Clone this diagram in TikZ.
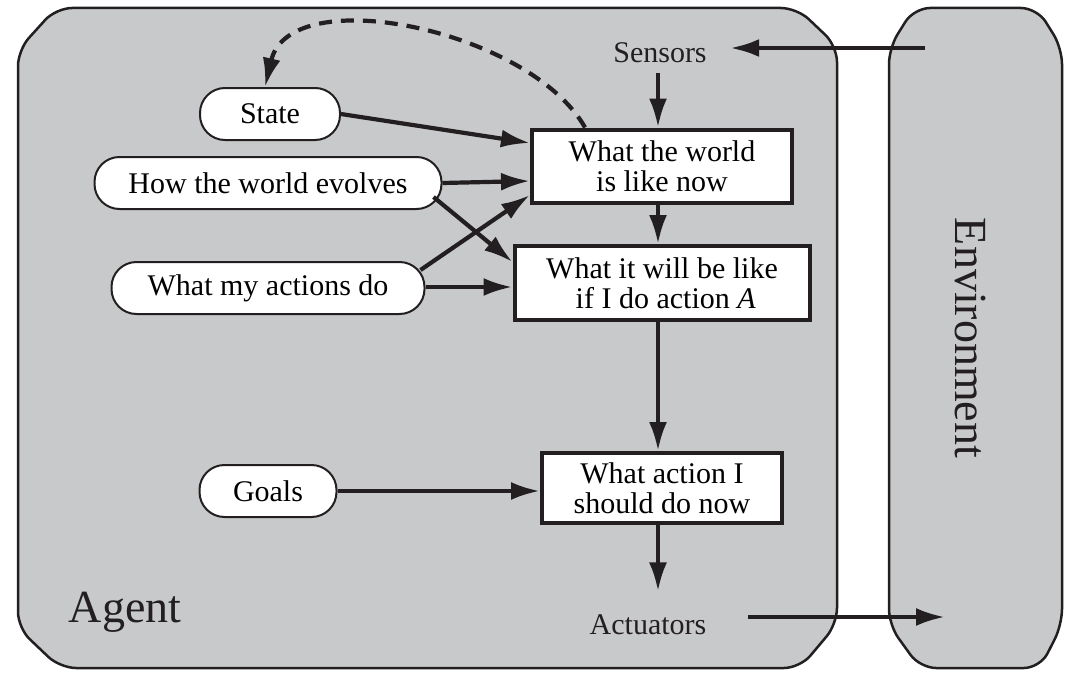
\documentclass[tikz,border=0pt]{standalone}
\usepackage{fontspec}
\setmainfont{Liberation Serif}
\usetikzlibrary{arrows.meta}
\definecolor{panel}{RGB}{200,201,203}
\definecolor{ink}{RGB}{35,31,32}
\tikzset{
  tip/.style={-{Latex[length=29pt,width=18pt]}},
  conn/.style={draw=ink,line width=4.2pt,tip},
  pill/.style={draw=ink,fill=white,line width=2pt,rounded corners=25pt,minimum height=52pt,font=\fontsize{30}{30}\selectfont,inner sep=0pt},
  boxn/.style={draw=ink,fill=white,line width=4pt,align=center,font=\fontsize{30}{30}\selectfont,inner sep=0pt},
  lbl/.style={font=\fontsize{30}{30}\selectfont,text=ink},
  outer/.style={draw=ink,fill=panel,line width=2.5pt,rounded corners=16pt}
}
\begin{document}
\begin{tikzpicture}[x=1pt,y=-1pt]
\useasboundingbox (0,0) rectangle (1079,677);
\draw[outer] (18,50) -- (56,8) -- (797,8) -- (837,46) -- (837,624) -- (800,668) -- (60,668) -- (18,628) -- cycle;
\draw[outer] (889,48) -- (914,8) -- (1037,8) -- (1062,48) -- (1062,625) -- (1040,668) -- (920,668) -- (889,625) -- cycle;
\node[lbl,font=\fontsize{46}{52}\selectfont] (agent) at (125,612) {Agent};
\node[lbl,font=\fontsize{46}{52}\selectfont,rotate=-90] (env) at (970,338) {Environment};
\coordinate (envin) at (925,48);
\coordinate (envout) at (945,617);
\node[lbl] (sensors) at (660,53) {Sensors};
\node[lbl] (actuators) at (648,625) {Actuators};
\node[pill,minimum width=140pt] (state) at (270,114) {State};
\node[pill,minimum width=347pt] (how) at (268,183) {How the world evolves};
\node[pill,minimum width=313pt] (what) at (268,288) {What my actions do};
\node[pill,minimum width=137pt] (goals) at (268,491) {Goals};
\node[boxn,minimum width=260pt,minimum height=73pt] (now) at (662,166) {What the world\\is like now};
\node[boxn,minimum width=295pt,minimum height=74pt] (will) at (662,283) {What it will be like\\\ if I do action \emph{A}};
\node[boxn,minimum width=240pt,minimum height=70pt] (act) at (662,488) {What action I\\should do now};
\draw[conn] (envin) -- ([xshift=20pt,yshift=5pt]sensors.east);
\draw[conn] ([xshift=-2pt,yshift=-6pt]sensors.south) -- ([xshift=-4pt]now.north);
\draw[conn] ([xshift=-4pt]now.south) -- ([xshift=-4pt]will.north);
\draw[conn] ([xshift=-4pt]will.south) -- ([xshift=-4pt]act.north);
\draw[conn] ([xshift=-4pt]act.south) -- ([xshift=-4pt,yshift=20pt]act.south |- actuators.north);
\draw[conn] ([xshift=38pt,yshift=8pt]actuators.east) -- (envout);
\draw[conn] (state.east) -- ([yshift=23pt]now.west);
\draw[conn] (how.east) -- ([yshift=-15pt]now.west);
\draw[conn] ([xshift=-9pt,yshift=-14pt]how.east) -- ([yshift=21pt]will.west);
\draw[conn] ([xshift=-5pt,yshift=18pt]what.east) -- ([yshift=-29pt]now.west);
\draw[conn] ([yshift=1pt]what.east) -- ([yshift=-4pt]will.west);
\draw[conn] (goals.east) -- ([yshift=-3pt]act.west);
\draw[draw=ink,line width=4.2pt,dash pattern=on 13pt off 9pt,tip] ([xshift=-77pt]now.north) .. controls (530,30) and (290,-20) .. ([xshift=-5pt]state.north);
\end{tikzpicture}
\end{document}
